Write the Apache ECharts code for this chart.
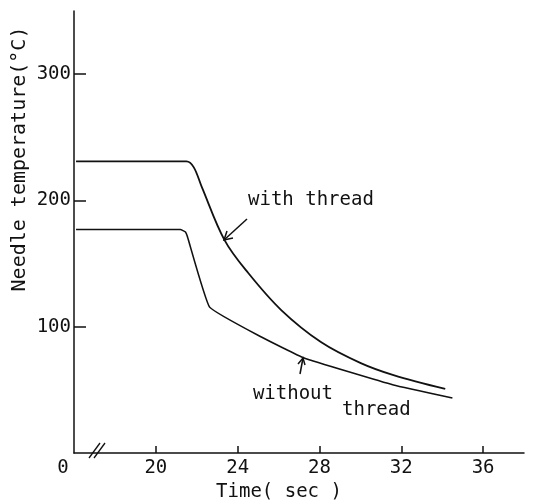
<!DOCTYPE html>
<html>
<head>
<meta charset="utf-8">
<script src="https://cdn.jsdelivr.net/npm/echarts@6/dist/echarts.min.js"></script>
<style>
  html, body { margin: 0; padding: 0; background: #fff; }
</style>
</head>
<body>
<div id="needleChart" style="width: 545px;height:502px;"></div>
<script>
// time (sec) and needle temperature (deg C)
const timeWith = [16.1, 21.5, 21.85, 22.24, 23.36, 24.52, 26.13, 28.07, 30.02, 31.62, 34.15];
const tempWith = [231, 231, 226.4, 211, 168.6, 142.5, 113.2, 87.9, 71.2, 61.7, 50.7];
const timeWithout = [16.1, 21.2, 21.45, 21.55, 22.63, 25.16, 27.25, 31.62, 34.5];
const tempWithout = [177, 177, 175, 171, 115.5, 91.8, 75.2, 53.8, 43.5];
const xTicks = [16, 20, 24, 28, 32, 36];
const yTicks = [100, 200, 300];

const font = 'DejaVu Sans Mono';
const ink = '#111';

function pairs(xs, ys) {
  return xs.map((x, i) => [x, ys[i]]);
}

const option = {
  animation: false,
  backgroundColor: '#fff',
  grid: {
    left: 74,
    right: 21,
    top: 11,
    bottom: 49,
    outerBoundsMode: 'none',
  },
  xAxis: {
    type: 'value',
    min: 16,
    max: 38,
    name: 'Time( sec )',
    nameLocation: 'middle',
    nameGap: 28,
    nameTextStyle: {
      fontFamily: font,
      fontSize: 19,
      color: ink,
      padding: [0, 40, 0, 0],
    },
    axisLine: { lineStyle: { color: ink, width: 1.5 } },
    axisTick: {
      customValues: xTicks.slice(1),
      inside: true,
      length: 7,
      lineStyle: { color: ink, width: 1.5 },
    },
    axisLabel: {
      customValues: xTicks,
      margin: 6,
      fontFamily: font,
      fontSize: 19,
      color: ink,
      // the axis is broken: the first tick stands for 0
      formatter: v => (v === 16 ? '{z|0}' : String(v)),
      rich: {
        z: { fontFamily: font, fontSize: 19, color: ink, padding: [0, 22, 0, 0] },
      },
    },
    splitLine: { show: false },
  },
  yAxis: {
    type: 'value',
    min: 0,
    max: 350,
    axisLine: { show: true, lineStyle: { color: ink, width: 1.5 } },
    axisTick: {
      show: true,
      customValues: yTicks,
      inside: true,
      length: 12,
      lineStyle: { color: ink, width: 1.5 },
    },
    axisLabel: {
      customValues: yTicks,
      margin: 3,
      fontFamily: font,
      fontSize: 19,
      color: ink,
    },
    splitLine: { show: false },
  },
  graphic: [
    {
      type: 'text',
      x: 20,
      y: 159,
      rotation: Math.PI / 2,
      style: {
        text: 'Needle temperature(°C)',
        fontFamily: font,
        fontSize: 20,
        fill: ink,
        align: 'center',
        verticalAlign: 'middle',
      },
    },
    {
      type: 'text',
      style: { x: 248, y: 200, text: 'with thread', fontFamily: font, fontSize: 19, fill: ink, verticalAlign: 'middle' },
    },
    {
      type: 'text',
      style: { x: 333, y: 394, text: 'without', fontFamily: font, fontSize: 19, fill: ink, align: 'right', verticalAlign: 'middle' },
    },
    {
      type: 'text',
      style: { x: 342, y: 410, text: 'thread', fontFamily: font, fontSize: 19, fill: ink, verticalAlign: 'middle' },
    },
    // arrow to the "with thread" curve
    {
      type: 'polyline',
      shape: { points: [[247, 219], [224, 240]] },
      style: { stroke: ink, lineWidth: 1.5, fill: null },
    },
    {
      type: 'polyline',
      shape: { points: [[233, 238], [224, 240], [227, 231]] },
      style: { stroke: ink, lineWidth: 1.5, fill: null },
    },
    // arrow to the "without thread" curve
    {
      type: 'polyline',
      shape: { points: [[300, 374], [303, 358]] },
      style: { stroke: ink, lineWidth: 1.5, fill: null },
    },
    {
      type: 'polyline',
      shape: { points: [[298, 364], [303, 358], [305, 365]] },
      style: { stroke: ink, lineWidth: 1.5, fill: null },
    },
    // axis break mark
    {
      type: 'line',
      shape: { x1: 89, y1: 458, x2: 100, y2: 443 },
      style: { stroke: ink, lineWidth: 1.3 },
    },
    {
      type: 'line',
      shape: { x1: 94, y1: 458, x2: 105, y2: 443 },
      style: { stroke: ink, lineWidth: 1.3 },
    },
  ],
  series: [
    {
      name: 'with thread',
      type: 'line',
      data: pairs(timeWith, tempWith),
      showSymbol: false,
      smooth: 0.35,
      lineStyle: { color: ink, width: 1.8 },
    },
    {
      name: 'without thread',
      type: 'line',
      data: pairs(timeWithout, tempWithout),
      showSymbol: false,
      smooth: 0.1,
      lineStyle: { color: ink, width: 1.6 },
    },
  ],
};

const myChart = echarts.init(document.getElementById('needleChart'));
myChart.setOption(option);
</script>
</body>
</html>
